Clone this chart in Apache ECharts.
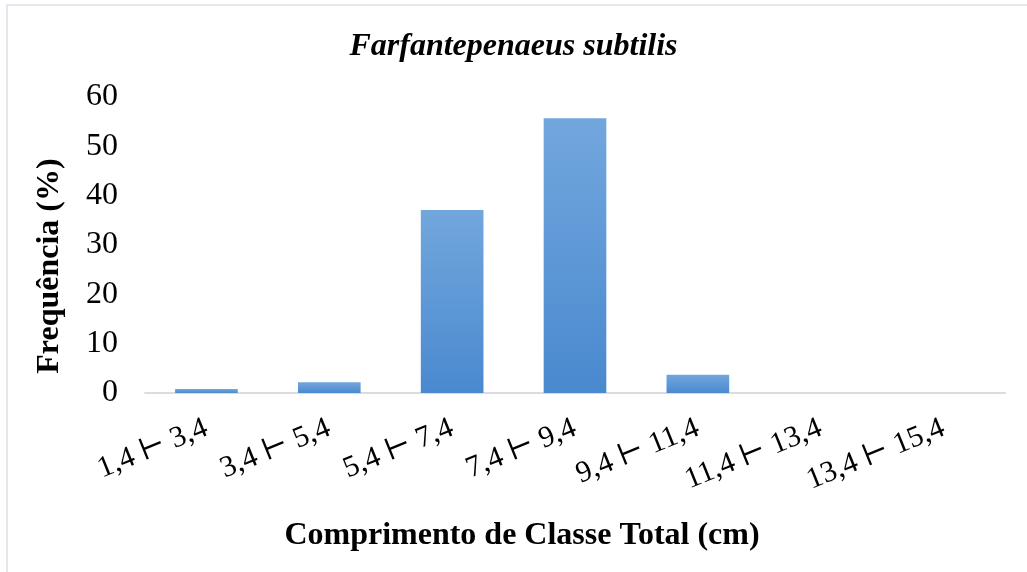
<!DOCTYPE html>
<html>
<head>
<meta charset="utf-8">
<script src="https://cdn.jsdelivr.net/npm/echarts@6/dist/echarts.min.js"></script>
<style>
  html, body { margin: 0; padding: 0; background: #ffffff; }
  #chart { width: 1027px; height: 572px; }
</style>
</head>
<body>
<div id="chart"></div>
<script>
// Length classes (cm) and their frequency (%)
const classes = ['1,4 ⊢ 3,4', '3,4 ⊢ 5,4', '5,4 ⊢ 7,4', '7,4 ⊢ 9,4', '9,4 ⊢ 11,4', '11,4 ⊢ 13,4', '13,4 ⊢ 15,4'];
const frequency = [0.8, 2.2, 37.1, 55.7, 3.7, 0, 0];
const yTicks = [0, 10, 20, 30, 40, 50, 60];

const serif = "'Liberation Serif', 'DejaVu Serif', serif";

const chart = echarts.init(document.getElementById('chart'));
chart.setOption({
  backgroundColor: '#ffffff',
  animation: false,
  title: {
    text: 'Farfantepenaeus subtilis',
    left: 'center',
    top: 26,
    textStyle: { fontFamily: serif, fontSize: 32, fontStyle: 'italic', fontWeight: 'bold', color: '#000' }
  },
  grid: { left: 145, right: 22, top: 97, bottom: 179 },
  xAxis: {
    type: 'category',
    data: classes,
    axisLine: { lineStyle: { color: '#d9dde3', width: 2 } },
    axisTick: { show: false },
    axisLabel: {
      rotate: 22,
      interval: 0,
      margin: 34,
      fontFamily: serif,
      fontSize: 30,
      color: '#000'
    }
  },
  yAxis: {
    type: 'value',
    min: yTicks[0],
    max: yTicks[yTicks.length - 1],
    interval: 10,
    splitLine: { show: false },
    axisLine: { show: false },
    axisTick: { show: false },
    axisLabel: {
      margin: 27,
      fontFamily: serif,
      fontSize: 32,
      color: '#000'
    }
  },
  graphic: [
    {
      type: 'rect',
      silent: true,
      shape: { x: 7, y: 5, width: 1040, height: 600 },
      style: { fill: 'none', stroke: '#e3e7ee', lineWidth: 2 }
    },
    {
      // y-axis title
      type: 'text',
      x: 50,
      y: 266,
      rotation: Math.PI / 2,
      style: {
        text: 'Frequência (%)',
        fontFamily: serif,
        fontSize: 32,
        fontWeight: 'bold',
        fill: '#000',
        align: 'center',
        verticalAlign: 'middle'
      }
    },
    {
      // x-axis title, centred on the page
      type: 'text',
      x: 522,
      y: 536,
      style: {
        text: 'Comprimento de Classe Total (cm)',
        fontFamily: serif,
        fontSize: 32,
        fontWeight: 'bold',
        fill: '#000',
        align: 'center',
        verticalAlign: 'middle'
      }
    }
  ],
  series: [{
    type: 'bar',
    data: frequency,
    barWidth: '51%',
    itemStyle: {
      color: new echarts.graphic.LinearGradient(0, 0, 0, 1, [
        { offset: 0, color: '#72a7dd' },
        { offset: 1, color: '#4a89cf' }
      ])
    }
  }]
});
</script>
</body>
</html>
